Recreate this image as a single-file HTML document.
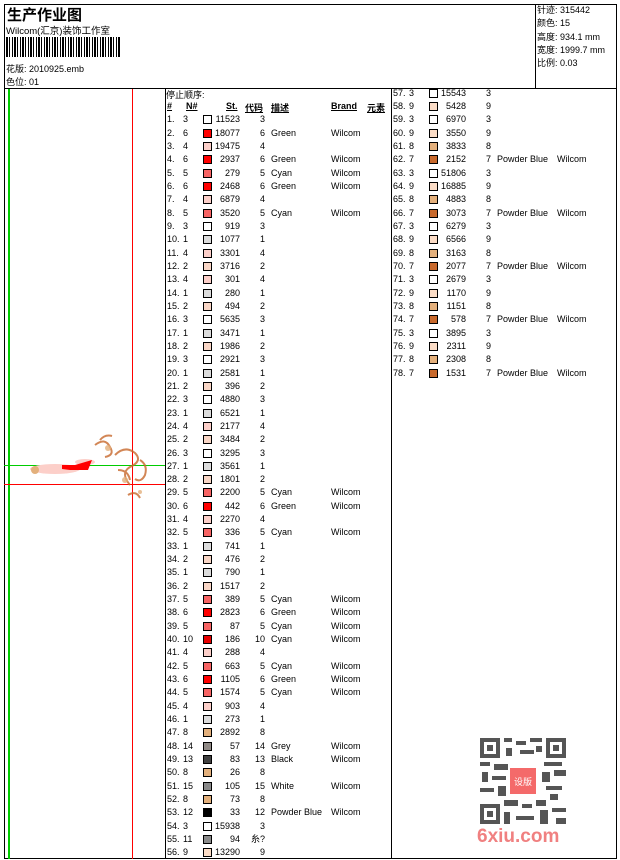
<!DOCTYPE html>
<html><head><meta charset="utf-8"><style>
*{margin:0;padding:0;box-sizing:border-box}
body{width:620px;height:860px;background:#fff;position:relative;overflow:hidden;font-family:"Liberation Sans","Noto Sans CJK SC",sans-serif;font-size:9px;color:#000}
.a{position:absolute}
.hl{position:absolute;background:#000;height:1px}
.vl{position:absolute;background:#000;width:1px}
.tb{position:absolute;width:226px}
.r{height:13.33px;line-height:13.33px;position:relative;white-space:nowrap}
.r span{position:absolute;top:0}
.n{left:2px}.k{left:18px}
.s{left:38px;top:2px!important;width:9px;height:9px;border:1px solid #000}
.st{right:151px;text-align:right}
.c{right:126px;text-align:right}
.d{left:106px}.b{left:166px}
.h{font-weight:bold;text-decoration:underline}
.c1{background:#dcdcdc}.c2{background:#f9d6c6}.c3{background:#fff}.c4{background:#fccfc9}.c5{background:#f76464}.c6{background:#f00}.c7{background:#c8692c}.c8{background:#e3b07c}.c9{background:#fbdcc6}.c10{background:#e80000}.c11{background:#8a8a8a}.c12{background:#000}.c13{background:#404040}.c14{background:#908a86}.c15{background:#8a8a8a}
</style></head><body>
<div class="hl" style="left:4px;top:4px;width:613px"></div>
<div class="hl" style="left:4px;top:88px;width:613px"></div>
<div class="hl" style="left:4px;top:858px;width:613px"></div>
<div class="vl" style="left:4px;top:4px;height:855px"></div>
<div class="vl" style="left:616px;top:4px;height:855px"></div>
<div class="vl" style="left:535px;top:4px;height:85px"></div>
<div class="vl" style="left:165px;top:88px;height:771px"></div>
<div class="vl" style="left:391px;top:88px;height:771px"></div>

<div class="a" style="left:7px;top:4px;font-size:15px;font-weight:bold">生产作业图</div>
<div class="a" style="left:6px;top:23px;font-size:9.5px">Wilcom(汇京)装饰工作室</div>
<div class="a" style="left:6px;top:37px;width:115px;height:20px;background:repeating-linear-gradient(90deg,#000 0 2px,#fff 2px 3px,#000 3px 4px,#fff 4px 6px,#000 6px 7px,#fff 7px 8px)"></div>
<div class="a" style="left:6px;top:62px">花版: 2010925.emb</div>
<div class="a" style="left:6px;top:75px">色位: 01</div>

<div class="a" style="left:537px;top:4px;line-height:13.3px">针迹: 315442<br>颜色: 15<br>高度: 934.1 mm<br>宽度: 1999.7 mm<br>比例: 0.03</div>

<div class="a" style="left:8px;top:89px;width:2px;height:770px;background:#0c0"></div>
<div class="a" style="left:132px;top:89px;width:1px;height:770px;background:#f00"></div>
<div class="a" style="left:4px;top:465px;width:161px;height:1px;background:#0c0"></div>
<div class="a" style="left:4px;top:484px;width:161px;height:1px;background:#f00"></div>
<svg class="a" style="left:0;top:420px" width="165" height="100">
<g fill="#fccfc9"><ellipse cx="55" cy="49" rx="25" ry="5"/><ellipse cx="85" cy="42" rx="10" ry="3"/></g>
<g fill="#f00"><polygon points="62,45 75,45 92,40 88,50 70,50 62,49"/></g>
<circle cx="35" cy="50" r="4" fill="#e3b07c"/>
<g fill="none" stroke="#c8692c" stroke-width="2" opacity="0.8"><path d="M95,25 q10,-8 15,2 q5,8 -5,10"/><path d="M115,35 q10,-10 20,-2 q8,8 -5,14 q-10,6 0,18"/><path d="M100,20 q5,-6 12,-4"/><path d="M128,75 q8,-5 12,3"/><path d="M118,50 q10,0 12,10"/><path d="M140,40 q8,5 5,15 q-4,8 -10,4"/></g>
<g fill="#e3b07c" opacity="0.8"><circle cx="108" cy="28" r="3"/><circle cx="125" cy="60" r="3"/><circle cx="140" cy="72" r="2"/></g>
</svg>

<div class="a" style="left:166px;top:88px">停止顺序:</div>
<div class="a" style="left:165px;top:101px;width:226px;height:14px">
<span class="a h" style="left:2px">#</span><span class="a h" style="left:21px">N#</span><span class="a h" style="left:61px">St.</span><span class="a h" style="left:80px">代码</span><span class="a h" style="left:106px">描述</span><span class="a h" style="left:166px">Brand</span><span class="a h" style="left:202px">元素</span></div>
<div class="tb" style="left:165px;top:113.3px">
<div class="r"><span class="n">1.</span><span class="k">3</span><span class="s c3"></span><span class="st">11523</span><span class="c">3</span></div>
<div class="r"><span class="n">2.</span><span class="k">6</span><span class="s c6"></span><span class="st">18077</span><span class="c">6</span><span class="d">Green</span><span class="b">Wilcom</span></div>
<div class="r"><span class="n">3.</span><span class="k">4</span><span class="s c4"></span><span class="st">19475</span><span class="c">4</span></div>
<div class="r"><span class="n">4.</span><span class="k">6</span><span class="s c6"></span><span class="st">2937</span><span class="c">6</span><span class="d">Green</span><span class="b">Wilcom</span></div>
<div class="r"><span class="n">5.</span><span class="k">5</span><span class="s c5"></span><span class="st">279</span><span class="c">5</span><span class="d">Cyan</span><span class="b">Wilcom</span></div>
<div class="r"><span class="n">6.</span><span class="k">6</span><span class="s c6"></span><span class="st">2468</span><span class="c">6</span><span class="d">Green</span><span class="b">Wilcom</span></div>
<div class="r"><span class="n">7.</span><span class="k">4</span><span class="s c4"></span><span class="st">6879</span><span class="c">4</span></div>
<div class="r"><span class="n">8.</span><span class="k">5</span><span class="s c5"></span><span class="st">3520</span><span class="c">5</span><span class="d">Cyan</span><span class="b">Wilcom</span></div>
<div class="r"><span class="n">9.</span><span class="k">3</span><span class="s c3"></span><span class="st">919</span><span class="c">3</span></div>
<div class="r"><span class="n">10.</span><span class="k">1</span><span class="s c1"></span><span class="st">1077</span><span class="c">1</span></div>
<div class="r"><span class="n">11.</span><span class="k">4</span><span class="s c4"></span><span class="st">3301</span><span class="c">4</span></div>
<div class="r"><span class="n">12.</span><span class="k">2</span><span class="s c2"></span><span class="st">3716</span><span class="c">2</span></div>
<div class="r"><span class="n">13.</span><span class="k">4</span><span class="s c4"></span><span class="st">301</span><span class="c">4</span></div>
<div class="r"><span class="n">14.</span><span class="k">1</span><span class="s c1"></span><span class="st">280</span><span class="c">1</span></div>
<div class="r"><span class="n">15.</span><span class="k">2</span><span class="s c2"></span><span class="st">494</span><span class="c">2</span></div>
<div class="r"><span class="n">16.</span><span class="k">3</span><span class="s c3"></span><span class="st">5635</span><span class="c">3</span></div>
<div class="r"><span class="n">17.</span><span class="k">1</span><span class="s c1"></span><span class="st">3471</span><span class="c">1</span></div>
<div class="r"><span class="n">18.</span><span class="k">2</span><span class="s c2"></span><span class="st">1986</span><span class="c">2</span></div>
<div class="r"><span class="n">19.</span><span class="k">3</span><span class="s c3"></span><span class="st">2921</span><span class="c">3</span></div>
<div class="r"><span class="n">20.</span><span class="k">1</span><span class="s c1"></span><span class="st">2581</span><span class="c">1</span></div>
<div class="r"><span class="n">21.</span><span class="k">2</span><span class="s c2"></span><span class="st">396</span><span class="c">2</span></div>
<div class="r"><span class="n">22.</span><span class="k">3</span><span class="s c3"></span><span class="st">4880</span><span class="c">3</span></div>
<div class="r"><span class="n">23.</span><span class="k">1</span><span class="s c1"></span><span class="st">6521</span><span class="c">1</span></div>
<div class="r"><span class="n">24.</span><span class="k">4</span><span class="s c4"></span><span class="st">2177</span><span class="c">4</span></div>
<div class="r"><span class="n">25.</span><span class="k">2</span><span class="s c2"></span><span class="st">3484</span><span class="c">2</span></div>
<div class="r"><span class="n">26.</span><span class="k">3</span><span class="s c3"></span><span class="st">3295</span><span class="c">3</span></div>
<div class="r"><span class="n">27.</span><span class="k">1</span><span class="s c1"></span><span class="st">3561</span><span class="c">1</span></div>
<div class="r"><span class="n">28.</span><span class="k">2</span><span class="s c2"></span><span class="st">1801</span><span class="c">2</span></div>
<div class="r"><span class="n">29.</span><span class="k">5</span><span class="s c5"></span><span class="st">2200</span><span class="c">5</span><span class="d">Cyan</span><span class="b">Wilcom</span></div>
<div class="r"><span class="n">30.</span><span class="k">6</span><span class="s c6"></span><span class="st">442</span><span class="c">6</span><span class="d">Green</span><span class="b">Wilcom</span></div>
<div class="r"><span class="n">31.</span><span class="k">4</span><span class="s c4"></span><span class="st">2270</span><span class="c">4</span></div>
<div class="r"><span class="n">32.</span><span class="k">5</span><span class="s c5"></span><span class="st">336</span><span class="c">5</span><span class="d">Cyan</span><span class="b">Wilcom</span></div>
<div class="r"><span class="n">33.</span><span class="k">1</span><span class="s c1"></span><span class="st">741</span><span class="c">1</span></div>
<div class="r"><span class="n">34.</span><span class="k">2</span><span class="s c2"></span><span class="st">476</span><span class="c">2</span></div>
<div class="r"><span class="n">35.</span><span class="k">1</span><span class="s c1"></span><span class="st">790</span><span class="c">1</span></div>
<div class="r"><span class="n">36.</span><span class="k">2</span><span class="s c2"></span><span class="st">1517</span><span class="c">2</span></div>
<div class="r"><span class="n">37.</span><span class="k">5</span><span class="s c5"></span><span class="st">389</span><span class="c">5</span><span class="d">Cyan</span><span class="b">Wilcom</span></div>
<div class="r"><span class="n">38.</span><span class="k">6</span><span class="s c6"></span><span class="st">2823</span><span class="c">6</span><span class="d">Green</span><span class="b">Wilcom</span></div>
<div class="r"><span class="n">39.</span><span class="k">5</span><span class="s c5"></span><span class="st">87</span><span class="c">5</span><span class="d">Cyan</span><span class="b">Wilcom</span></div>
<div class="r"><span class="n">40.</span><span class="k">10</span><span class="s c10"></span><span class="st">186</span><span class="c">10</span><span class="d">Cyan</span><span class="b">Wilcom</span></div>
<div class="r"><span class="n">41.</span><span class="k">4</span><span class="s c4"></span><span class="st">288</span><span class="c">4</span></div>
<div class="r"><span class="n">42.</span><span class="k">5</span><span class="s c5"></span><span class="st">663</span><span class="c">5</span><span class="d">Cyan</span><span class="b">Wilcom</span></div>
<div class="r"><span class="n">43.</span><span class="k">6</span><span class="s c6"></span><span class="st">1105</span><span class="c">6</span><span class="d">Green</span><span class="b">Wilcom</span></div>
<div class="r"><span class="n">44.</span><span class="k">5</span><span class="s c5"></span><span class="st">1574</span><span class="c">5</span><span class="d">Cyan</span><span class="b">Wilcom</span></div>
<div class="r"><span class="n">45.</span><span class="k">4</span><span class="s c4"></span><span class="st">903</span><span class="c">4</span></div>
<div class="r"><span class="n">46.</span><span class="k">1</span><span class="s c1"></span><span class="st">273</span><span class="c">1</span></div>
<div class="r"><span class="n">47.</span><span class="k">8</span><span class="s c8"></span><span class="st">2892</span><span class="c">8</span></div>
<div class="r"><span class="n">48.</span><span class="k">14</span><span class="s c14"></span><span class="st">57</span><span class="c">14</span><span class="d">Grey</span><span class="b">Wilcom</span></div>
<div class="r"><span class="n">49.</span><span class="k">13</span><span class="s c13"></span><span class="st">83</span><span class="c">13</span><span class="d">Black</span><span class="b">Wilcom</span></div>
<div class="r"><span class="n">50.</span><span class="k">8</span><span class="s c8"></span><span class="st">26</span><span class="c">8</span></div>
<div class="r"><span class="n">51.</span><span class="k">15</span><span class="s c15"></span><span class="st">105</span><span class="c">15</span><span class="d">White</span><span class="b">Wilcom</span></div>
<div class="r"><span class="n">52.</span><span class="k">8</span><span class="s c8"></span><span class="st">73</span><span class="c">8</span></div>
<div class="r"><span class="n">53.</span><span class="k">12</span><span class="s c12"></span><span class="st">33</span><span class="c">12</span><span class="d">Powder Blue</span><span class="b">Wilcom</span></div>
<div class="r"><span class="n">54.</span><span class="k">3</span><span class="s c3"></span><span class="st">15938</span><span class="c">3</span></div>
<div class="r"><span class="n">55.</span><span class="k">11</span><span class="s c11"></span><span class="st">94</span><span class="c">糸?</span></div>
<div class="r"><span class="n">56.</span><span class="k">9</span><span class="s c9"></span><span class="st">13290</span><span class="c">9</span></div>
</div>

<div class="tb" style="left:391px;top:86.7px">
<div class="r"><span class="n">57.</span><span class="k">3</span><span class="s c3"></span><span class="st">15543</span><span class="c">3</span></div>
<div class="r"><span class="n">58.</span><span class="k">9</span><span class="s c9"></span><span class="st">5428</span><span class="c">9</span></div>
<div class="r"><span class="n">59.</span><span class="k">3</span><span class="s c3"></span><span class="st">6970</span><span class="c">3</span></div>
<div class="r"><span class="n">60.</span><span class="k">9</span><span class="s c9"></span><span class="st">3550</span><span class="c">9</span></div>
<div class="r"><span class="n">61.</span><span class="k">8</span><span class="s c8"></span><span class="st">3833</span><span class="c">8</span></div>
<div class="r"><span class="n">62.</span><span class="k">7</span><span class="s c7"></span><span class="st">2152</span><span class="c">7</span><span class="d">Powder Blue</span><span class="b">Wilcom</span></div>
<div class="r"><span class="n">63.</span><span class="k">3</span><span class="s c3"></span><span class="st">51806</span><span class="c">3</span></div>
<div class="r"><span class="n">64.</span><span class="k">9</span><span class="s c9"></span><span class="st">16885</span><span class="c">9</span></div>
<div class="r"><span class="n">65.</span><span class="k">8</span><span class="s c8"></span><span class="st">4883</span><span class="c">8</span></div>
<div class="r"><span class="n">66.</span><span class="k">7</span><span class="s c7"></span><span class="st">3073</span><span class="c">7</span><span class="d">Powder Blue</span><span class="b">Wilcom</span></div>
<div class="r"><span class="n">67.</span><span class="k">3</span><span class="s c3"></span><span class="st">6279</span><span class="c">3</span></div>
<div class="r"><span class="n">68.</span><span class="k">9</span><span class="s c9"></span><span class="st">6566</span><span class="c">9</span></div>
<div class="r"><span class="n">69.</span><span class="k">8</span><span class="s c8"></span><span class="st">3163</span><span class="c">8</span></div>
<div class="r"><span class="n">70.</span><span class="k">7</span><span class="s c7"></span><span class="st">2077</span><span class="c">7</span><span class="d">Powder Blue</span><span class="b">Wilcom</span></div>
<div class="r"><span class="n">71.</span><span class="k">3</span><span class="s c3"></span><span class="st">2679</span><span class="c">3</span></div>
<div class="r"><span class="n">72.</span><span class="k">9</span><span class="s c9"></span><span class="st">1170</span><span class="c">9</span></div>
<div class="r"><span class="n">73.</span><span class="k">8</span><span class="s c8"></span><span class="st">1151</span><span class="c">8</span></div>
<div class="r"><span class="n">74.</span><span class="k">7</span><span class="s c7"></span><span class="st">578</span><span class="c">7</span><span class="d">Powder Blue</span><span class="b">Wilcom</span></div>
<div class="r"><span class="n">75.</span><span class="k">3</span><span class="s c3"></span><span class="st">3895</span><span class="c">3</span></div>
<div class="r"><span class="n">76.</span><span class="k">9</span><span class="s c9"></span><span class="st">2311</span><span class="c">9</span></div>
<div class="r"><span class="n">77.</span><span class="k">8</span><span class="s c8"></span><span class="st">2308</span><span class="c">8</span></div>
<div class="r"><span class="n">78.</span><span class="k">7</span><span class="s c7"></span><span class="st">1531</span><span class="c">7</span><span class="d">Powder Blue</span><span class="b">Wilcom</span></div>
</div>

<svg class="a" style="left:480px;top:738px" width="86" height="86">
<rect width="86" height="86" fill="#fff"/>
<g fill="#555">
<path d="M0 0h20v20H0z M4 4v12h12V4z M7 7h6v6H7z" fill-rule="evenodd"/>
<path d="M66 0h20v20H66z M70 4v12h12V4z M73 7h6v6h-6z" fill-rule="evenodd"/>
<path d="M0 66h20v20H0z M4 70v12h12V70z M7 73h6v6H7z" fill-rule="evenodd"/>
<rect x="24" y="0" width="8" height="4"/><rect x="36" y="3" width="10" height="4"/><rect x="50" y="0" width="12" height="4"/>
<rect x="26" y="10" width="6" height="8"/><rect x="40" y="12" width="14" height="4"/><rect x="56" y="8" width="6" height="6"/>
<rect x="0" y="24" width="10" height="4"/><rect x="14" y="26" width="14" height="6"/><rect x="64" y="24" width="18" height="4"/>
<rect x="2" y="34" width="6" height="10"/><rect x="12" y="38" width="14" height="4"/><rect x="62" y="34" width="8" height="10"/><rect x="74" y="32" width="12" height="6"/>
<rect x="0" y="50" width="14" height="4"/><rect x="18" y="48" width="8" height="10"/><rect x="66" y="48" width="16" height="4"/><rect x="70" y="56" width="8" height="6"/>
<rect x="24" y="62" width="14" height="6"/><rect x="42" y="66" width="10" height="4"/><rect x="56" y="62" width="10" height="6"/><rect x="24" y="74" width="6" height="12"/><rect x="36" y="78" width="18" height="4"/><rect x="60" y="72" width="8" height="14"/><rect x="72" y="70" width="14" height="4"/><rect x="76" y="80" width="10" height="6"/>
</g>
<rect x="30" y="30" width="26" height="26" fill="#f46a6a"/>
<text x="43" y="47" font-size="9" fill="#fff" text-anchor="middle" font-family="Noto Sans CJK SC,sans-serif">设版</text>
</svg>
<div class="a" style="left:477px;top:826px;font-size:19px;font-weight:bold;color:#f08080;font-family:'Liberation Sans',sans-serif">6xiu.com</div>
</body></html>
